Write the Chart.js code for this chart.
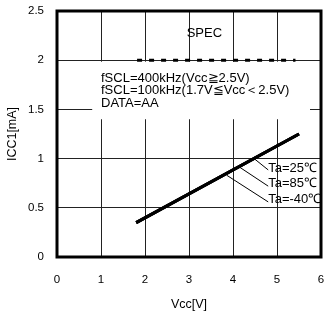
<!DOCTYPE html>
<html><head><meta charset="utf-8">
<script src="https://cdn.jsdelivr.net/npm/chart.js@4.4.1/dist/chart.umd.min.js"></script>
<style>html,body{margin:0;padding:0;background:#fff}#wrap{width:326px;height:316px}</style>
</head><body><div id="wrap"><canvas id="c" width="326" height="316"></canvas></div>
<script>
const xTicks = [0,1,2,3,4,5,6];
const xTickLabels = ["0","1","2","3","4","5","6"];
const yTicks = [0,0.5,1,1.5,2,2.5];
const yTickLabels = ["0","0.5","1","1.5","2","2.5"];
const vcc = [1.8, 5.5];
const icc25 = [0.35, 1.25];
const icc85 = [0.35, 1.25];
const iccM40 = [0.35, 1.25];
const specX = [1.82, 5.42];
const specY = [2, 2];
const conditionLines = ["fSCL=400kHz(Vcc≧2.5V)", "fSCL=100kHz(1.7V≦Vcc＜2.5V)", "DATA=AA"];
const seriesLabels = ["Ta=25℃", "Ta=85℃", "Ta=-40℃"];
const leaderFrom = [[4.48,1.0],[4.16,0.91],[3.86,0.83]];
const leaderTo = [[4.8,0.885],[4.8,0.72],[4.8,0.56]];
const labelY = [0.9, 0.75, 0.59];

const FONT = "'Liberation Sans', Arial, sans-serif";
const pts = (xs, ys) => xs.map((x,i)=>({x, y: ys[i]}));

const annot = {
  id: 'annot',
  beforeDatasetsDraw(chart) {
    const {ctx, scales:{x, y}} = chart;
    ctx.save();
    ctx.fillStyle = '#fff';
    const x0 = x.getPixelForValue(0.8), x1 = x.getPixelForValue(5.75);
    const y0 = y.getPixelForValue(1.985), y1 = y.getPixelForValue(1.4);
    ctx.fillRect(x0, y0, x1-x0, y1-y0);
    ctx.fillStyle = '#000';
    ctx.font = '13px ' + FONT;
    ctx.textBaseline = 'middle';
    ctx.textAlign = 'left';
    conditionLines.forEach((t,i)=>{
      ctx.fillText(t, x.getPixelForValue(1.0), y.getPixelForValue(1.815) + i*12.5);
    });
    ctx.textAlign = 'center';
    ctx.fillText('SPEC', x.getPixelForValue(3.35), y.getPixelForValue(2.27));
    ctx.restore();
  },
  afterDraw(chart) {
    const {ctx, chartArea:a, scales:{x, y}} = chart;
    ctx.save();
    ctx.strokeStyle = '#000';
    ctx.lineWidth = 1;
    leaderFrom.forEach((p,i)=>{
      ctx.beginPath();
      ctx.moveTo(x.getPixelForValue(p[0]), y.getPixelForValue(p[1]));
      ctx.lineTo(x.getPixelForValue(leaderTo[i][0]), y.getPixelForValue(leaderTo[i][1]));
      ctx.stroke();
    });
    ctx.fillStyle = '#000';
    ctx.font = '13px ' + FONT;
    ctx.textBaseline = 'middle';
    ctx.textAlign = 'left';
    seriesLabels.forEach((t,i)=>{
      ctx.fillText(t, x.getPixelForValue(4.8), y.getPixelForValue(labelY[i]));
    });
    ctx.lineWidth = 3;
    ctx.strokeRect(a.left, a.top, a.right - a.left, a.bottom - a.top);
    ctx.restore();
  }
};

const lineDs = (label, ys) => ({label, data: pts(vcc, ys), borderColor:'#000', borderWidth:3, pointRadius:0, fill:false, tension:0});
const zeroPad = s => { s.paddingTop = 0; s.paddingBottom = 0; s.paddingLeft = 0; s.paddingRight = 0; };

new Chart(document.getElementById('c'), {
  type: 'line',
  data: { datasets: [
    lineDs(seriesLabels[0], icc25),
    lineDs(seriesLabels[1], icc85),
    lineDs(seriesLabels[2], iccM40),
    {label:'SPEC', data: pts(specX, specY), borderColor:'#000', borderWidth:3, borderDash:[5,7], pointRadius:0, fill:false}
  ]},
  options: {
    responsive:false, animation:false, devicePixelRatio:1,
    layout:{padding:{top:11, right:5, left:0, bottom:0}},
    plugins:{legend:{display:false}, tooltip:{enabled:false}},
    scales:{
      x:{type:'linear', min:0, max:6,
        afterBuildTicks: s => { s.ticks = xTicks.map(v=>({value:v})); },
        afterFit: s => { s.height = 59; zeroPad(s); },
        grid:{color:'#222', lineWidth:1, drawTicks:false},
        border:{display:false},
        ticks:{color:'#000', font:{family:FONT, size:11.5}, padding:16, maxRotation:0,
          callback: (v, i) => xTickLabels[i]},
        title:{display:true, text:'Vcc[V]', color:'#000', font:{family:FONT, size:12.5}, padding:{top:0, bottom:4}}
      },
      y:{type:'linear', min:0, max:2.5,
        afterBuildTicks: s => { s.ticks = yTicks.map(v=>({value:v})); },
        afterFit: s => { s.width = 57; zeroPad(s); },
        grid:{color:'#222', lineWidth:1, drawTicks:false},
        border:{display:false},
        ticks:{color:'#000', font:{family:FONT, size:11.5}, padding:13,
          callback: (v, i) => yTickLabels[i]},
        title:{display:true, text:'ICC1[mA]', color:'#000', font:{family:FONT, size:12.5}, padding:{top:5, bottom:0}}
      }
    }
  },
  plugins:[annot]
});
</script></body></html>
